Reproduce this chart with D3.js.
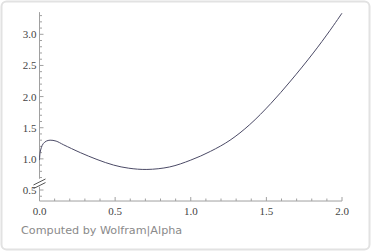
<!DOCTYPE html>
<html>
<head>
<meta charset="utf-8">
<script src="https://cdn.jsdelivr.net/npm/d3@7"></script>
<style>
  html, body { margin: 0; padding: 0; background: #fff; }
  svg { display: block; }
</style>
</head>
<body>
<div id="chart"></div>
<script>
// values
const xs = [0, 0.004, 0.012, 0.025, 0.045, 0.07, 0.11, 0.16, 0.27, 0.38, 0.49, 0.59, 0.71, 0.86, 1.0, 1.13, 1.26, 1.39, 1.53, 1.66, 1.81, 1.92, 2.0];
const ys = [0.98, 1.10, 1.18, 1.245, 1.285, 1.30, 1.285, 1.225, 1.10, 0.99, 0.90, 0.85, 0.83, 0.87, 0.98, 1.12, 1.30, 1.55, 1.89, 2.25, 2.70, 3.06, 3.34];
const xTicks = [0, 0.5, 1.0, 1.5, 2.0];
const yTicks = [0.5, 1.0, 1.5, 2.0, 2.5, 3.0];
const footer = "Computed by Wolfram|Alpha";

const W = 372, H = 252;
const svg = d3.select("#chart").append("svg").attr("width", W).attr("height", H);

// card frame
svg.append("rect").attr("x", 1.5).attr("y", 1.5).attr("width", W - 4).attr("height", H - 4)
  .attr("rx", 5).attr("fill", "#fff").attr("stroke", "#e2e2e2").attr("stroke-width", 2);

const x = d3.scaleLinear().domain([0, 2]).range([39.5, 342]);
const y = d3.scaleLinear().domain([0.5, 3.0]).range([190, 34.3]);
const yBottom = 0.323, yTop = 3.34;

const axisColor = "#a0a0a0";
const g = svg.append("g");

// axes lines
g.append("line").attr("x1", x(0)).attr("x2", x(2)).attr("y1", y(yBottom)).attr("y2", y(yBottom))
  .attr("stroke", axisColor).attr("stroke-width", 1);
g.append("line").attr("x1", x(0)).attr("x2", x(0)).attr("y1", y(yBottom)).attr("y2", y(yTop) - 1)
  .attr("stroke", axisColor).attr("stroke-width", 1);

// x ticks (inward)
const xMinor = d3.range(0, 2.0001, 0.1);
g.selectAll("line.xt").data(xMinor).join("line").attr("class", "xt")
  .attr("x1", d => x(d)).attr("x2", d => x(d))
  .attr("y1", y(yBottom)).attr("y2", d => y(yBottom) - (Math.abs(d * 2 - Math.round(d * 2)) < 1e-6 ? 4 : 2.5))
  .attr("stroke", axisColor);
g.selectAll("text.xl").data(xTicks).join("text").attr("class", "xl")
  .attr("x", d => x(d)).attr("y", y(yBottom) + 14)
  .attr("text-anchor", "middle").attr("font-family", "Liberation Serif, serif").attr("font-size", 11)
  .attr("fill", "#444").text(d => d.toFixed(1));

// y ticks (inward)
const yMinor = d3.range(0.4, 3.30001, 0.1);
g.selectAll("line.yt").data(yMinor).join("line").attr("class", "yt")
  .attr("y1", d => y(d)).attr("y2", d => y(d))
  .attr("x1", x(0)).attr("x2", d => x(0) + (Math.abs(d * 2 - Math.round(d * 2)) < 1e-6 ? 4 : 2.5))
  .attr("stroke", axisColor);
g.selectAll("text.yl").data(yTicks).join("text").attr("class", "yl")
  .attr("x", x(0) - 3).attr("y", d => y(d) + 4)
  .attr("text-anchor", "end").attr("font-family", "Liberation Serif, serif").attr("font-size", 11)
  .attr("fill", "#444").text(d => d.toFixed(1));

// axis break marker
const by = y(0.6);
g.append("rect").attr("x", x(0) - 3).attr("y", by - 5).attr("width", 6).attr("height", 8).attr("fill", "#fff");
[-1.8, 1.8].forEach(o => {
  g.append("line").attr("x1", x(0) - 6).attr("y1", by + o + 3).attr("x2", x(0) + 6).attr("y2", by + o - 3)
    .attr("stroke", "#555").attr("stroke-width", 1);
});

// curve
const pts = xs.map((v, i) => [v, ys[i]]);
g.append("path").datum(pts)
  .attr("d", d3.line().x(d => x(d[0])).y(d => y(d[1])).curve(d3.curveCatmullRom.alpha(0.5)))
  .attr("fill", "none").attr("stroke", "#4b4a66").attr("stroke-width", 1);

// footer
svg.append("text").attr("x", 21).attr("y", 234).attr("font-family", "DejaVu Sans, sans-serif")
  .attr("font-size", 11.2).attr("fill", "#8a8a8a").text(footer);
</script>
</body>
</html>
